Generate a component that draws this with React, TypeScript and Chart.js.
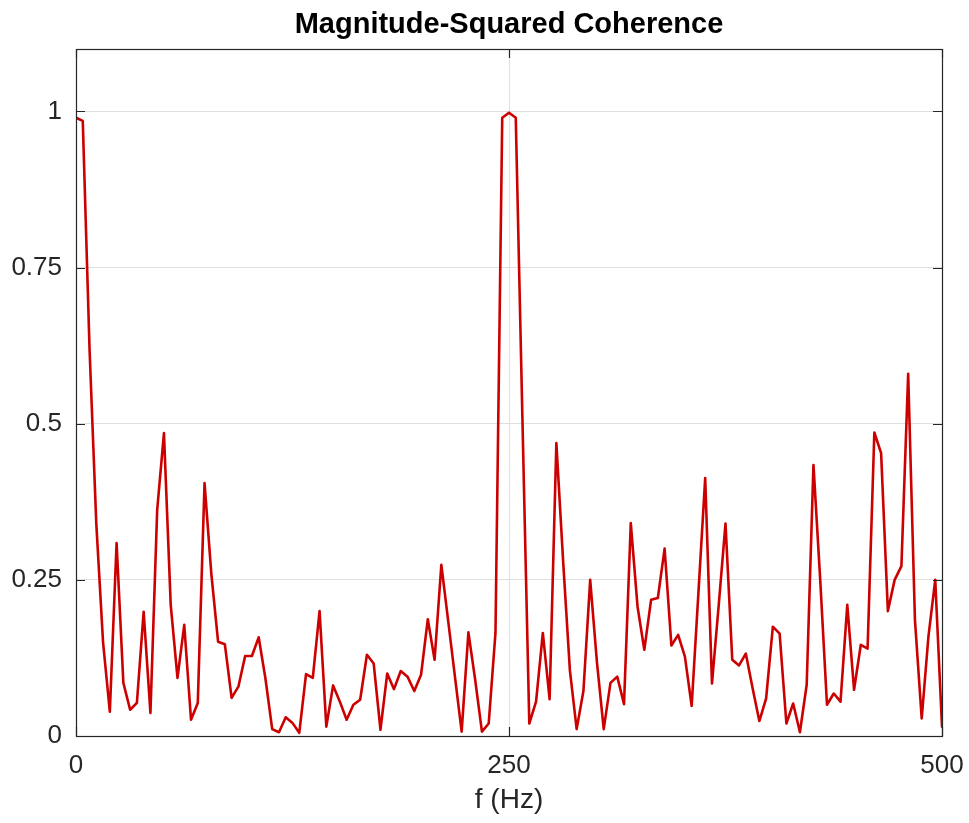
import React, { useEffect, useRef } from "react";
import { Chart, registerables } from "chart.js";

Chart.register(...registerables);

// Sampling of the estimate: fs = 1000 Hz, nfft = 256 -> 129 bins from 0 to 500 Hz
const SAMPLE_RATE = 1000;
const NFFT = 256;

// Magnitude-squared coherence, one value per frequency bin
const coherence: number[] = [
  0.99, 0.985, 0.62, 0.34, 0.15, 0.039, 0.309, 0.085, 0.042, 0.053,
  0.199, 0.037, 0.362, 0.485, 0.21, 0.093, 0.178, 0.026, 0.053, 0.405,
  0.26, 0.151, 0.147, 0.061, 0.079, 0.128, 0.128, 0.158, 0.092, 0.011,
  0.006, 0.03, 0.021, 0.005, 0.099, 0.093, 0.2, 0.015, 0.081, 0.055,
  0.026, 0.05, 0.058, 0.13, 0.116, 0.01, 0.1, 0.075, 0.104, 0.095,
  0.072, 0.098, 0.187, 0.122, 0.274, 0.185, 0.096, 0.007, 0.166, 0.09,
  0.007, 0.02, 0.165, 0.99, 0.998, 0.99, 0.5, 0.02, 0.055, 0.165,
  0.059, 0.469, 0.28, 0.105, 0.011, 0.072, 0.25, 0.118, 0.011, 0.085,
  0.095, 0.051, 0.341, 0.207, 0.138, 0.218, 0.221, 0.3, 0.145, 0.162,
  0.127, 0.048, 0.23, 0.413, 0.084, 0.21, 0.34, 0.122, 0.113, 0.132,
  0.077, 0.024, 0.06, 0.175, 0.164, 0.02, 0.052, 0.006, 0.082, 0.434,
  0.25, 0.05, 0.068, 0.055, 0.21, 0.074, 0.146, 0.14, 0.486, 0.453,
  0.2, 0.25, 0.272, 0.58, 0.186, 0.028, 0.16, 0.25, 0.015,
];

const frequencies: number[] = coherence.map((_, i) => (i * SAMPLE_RATE) / NFFT);

const xTicks: number[] = [0, 250, 500];
const xTickLabels: string[] = ["0", "250", "500"];
const yTicks: number[] = [0, 0.25, 0.5, 0.75, 1];
const yTickLabels: string[] = ["0", "0.25", "0.5", "0.75", "1"];

const TITLE = "Magnitude-Squared Coherence";
const X_LABEL = "f (Hz)";

const FONT = '"Liberation Sans", Arial, Helvetica, sans-serif';
const AXIS_COLOR = "#262626";
const GRID_COLOR = "#dfdfdf";
const LINE_COLOR = "#cc0000";

const W = 969;
const H = 823;

const framePlugin = {
  id: "matlabFrame",
  afterDraw(chart: any) {
    const { ctx, chartArea: a, scales } = chart;
    const x = scales.x;
    const y = scales.y;
    ctx.save();
    ctx.strokeStyle = AXIS_COLOR;
    ctx.lineWidth = 1.2;
    ctx.strokeRect(a.left + 0.5, a.top + 0.5, a.right - a.left, a.bottom - a.top);
    const tl = 9;
    ctx.beginPath();
    xTicks.forEach((v) => {
      const px = Math.round(x.getPixelForValue(v)) + 0.5;
      ctx.moveTo(px, a.bottom);
      ctx.lineTo(px, a.bottom - tl);
      ctx.moveTo(px, a.top);
      ctx.lineTo(px, a.top + tl);
    });
    yTicks.forEach((v) => {
      const py = Math.round(y.getPixelForValue(v)) + 0.5;
      ctx.moveTo(a.left, py);
      ctx.lineTo(a.left + tl, py);
      ctx.moveTo(a.right, py);
      ctx.lineTo(a.right - tl, py);
    });
    ctx.stroke();

    const cx = (a.left + a.right) / 2;
    ctx.fillStyle = "#000000";
    ctx.textAlign = "center";
    ctx.textBaseline = "middle";
    ctx.font = `bold 29px ${FONT}`;
    ctx.fillText(TITLE, cx, 25);

    ctx.fillStyle = AXIS_COLOR;
    ctx.font = `28px ${FONT}`;
    ctx.fillText(X_LABEL, cx, 800);
    ctx.restore();
  },
};

export default function App() {
  const canvasRef = useRef<HTMLCanvasElement | null>(null);

  useEffect(() => {
    document.body.style.margin = "0";
    const canvas = canvasRef.current;
    if (!canvas) return;
    const chart = new Chart(canvas, {
      type: "line",
      data: {
        datasets: [
          {
            data: frequencies.map((f, i) => ({ x: f, y: coherence[i] })),
            borderColor: LINE_COLOR,
            borderWidth: 2.6,
            pointRadius: 0,
            tension: 0,
            borderJoinStyle: "round",
            borderCapStyle: "round",
            fill: false,
          },
        ],
      },
      options: {
        responsive: false,
        maintainAspectRatio: false,
        animation: false,
        devicePixelRatio: 1,
        layout: { padding: { top: 49, right: 27, left: 0, bottom: 0 } },
        plugins: {
          legend: { display: false },
          title: { display: false },
          tooltip: { enabled: false },
        },
        scales: {
          x: {
            type: "linear",
            min: 0,
            max: 500,
            afterBuildTicks: (scale: any) => {
              scale.ticks = xTicks.map((v) => ({ value: v }));
            },
            afterFit: (scale: any) => {
              scale.height = 87;
              scale.paddingLeft = 0;
              scale.paddingRight = 0;
            },
            grid: { color: GRID_COLOR, drawTicks: false, lineWidth: 1 },
            border: { display: false },
            ticks: {
              autoSkip: false,
              maxRotation: 0,
              padding: 14,
              color: AXIS_COLOR,
              font: { family: FONT, size: 26 },
              callback: (v: any) => {
                const k = xTicks.indexOf(Number(v));
                return k >= 0 ? xTickLabels[k] : "";
              },
            },
          },
          y: {
            type: "linear",
            min: 0,
            max: 1.1,
            afterBuildTicks: (scale: any) => {
              scale.ticks = yTicks.map((v) => ({ value: v }));
            },
            afterFit: (scale: any) => {
              scale.width = 76;
              scale.paddingTop = 0;
              scale.paddingBottom = 0;
            },
            grid: { color: GRID_COLOR, drawTicks: false, lineWidth: 1 },
            border: { display: false },
            ticks: {
              autoSkip: false,
              padding: 14,
              color: AXIS_COLOR,
              font: { family: FONT, size: 26 },
              callback: (v: any) => {
                const k = yTicks.indexOf(Number(v));
                return k >= 0 ? yTickLabels[k] : "";
              },
            },
          },
        },
      },
      plugins: [framePlugin],
    });
    return () => chart.destroy();
  }, []);

  return <canvas ref={canvasRef} width={W} height={H} style={{ display: "block" }} />;
}
